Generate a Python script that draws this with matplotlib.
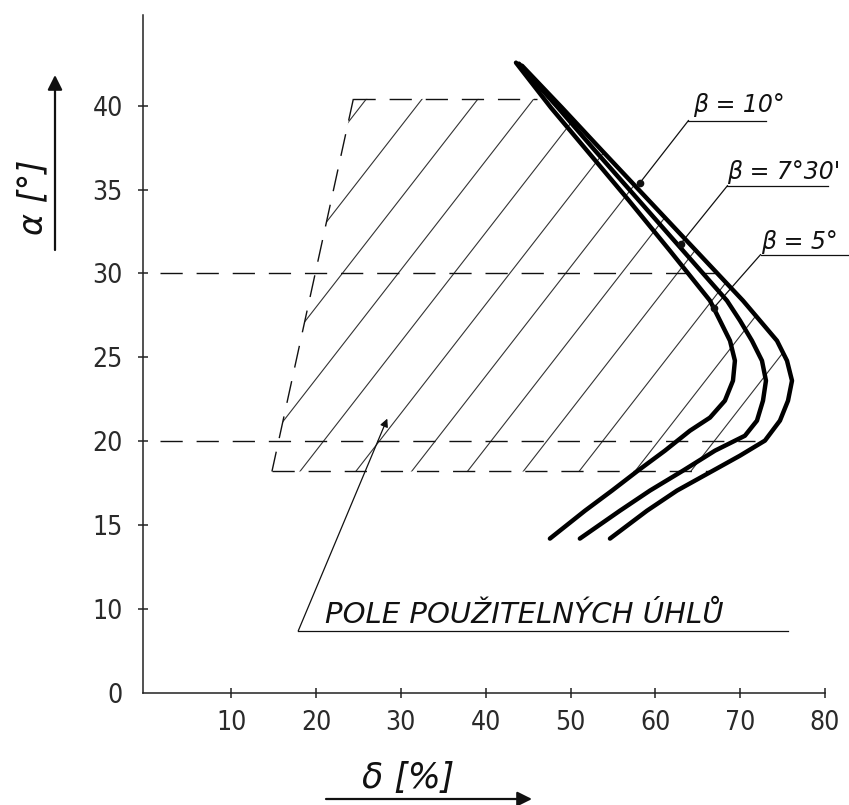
import matplotlib
matplotlib.use("Agg")
import matplotlib.pyplot as plt
from matplotlib.patches import Polygon
import numpy as np

# delta [%] / alpha [deg], from top end to bottom end
beta10_delta = [43.57, 47.69, 51.94, 56.89, 61.71, 66.44, 67.62, 68.80, 69.38, 69.15,
                68.20, 66.44, 64.08, 61.13, 57.95, 54.89, 51.70, 47.57]
beta10_alpha = [42.56, 39.88, 37.32, 34.34, 31.36, 28.38, 27.19, 25.99, 24.80, 23.61,
                22.42, 21.41, 20.63, 19.44, 18.25, 17.06, 15.86, 14.20]

beta730_delta = [43.92, 48.52, 52.89, 58.08, 63.26, 68.44, 69.98, 71.39, 72.57, 73.04,
                 72.69, 71.98, 70.56, 67.03, 63.26, 59.36, 55.82, 51.10]
beta730_alpha = [42.50, 39.88, 37.32, 34.34, 31.36, 28.38, 27.19, 25.99, 24.80, 23.61,
                 22.42, 21.23, 20.33, 19.44, 18.25, 17.06, 15.86, 14.20]

beta5_delta = [44.28, 48.99, 53.71, 59.25, 64.79, 70.33, 72.33, 74.34, 75.52, 76.11,
               75.64, 74.69, 72.92, 69.97, 66.80, 62.55, 59.01, 54.65]
beta5_alpha = [42.38, 39.88, 37.32, 34.34, 31.36, 28.38, 27.19, 25.99, 24.80, 23.61,
               22.42, 21.23, 20.04, 19.14, 18.25, 17.06, 15.86, 14.20]

# field of usable angles (left edge, top and bottom levels)
field_left_delta = [24.4, 14.8]
field_left_alpha = [40.4, 18.2]
field_top_end = 46.0
field_bottom_end = 66.5

# dashed guide levels
guide_alpha = [30, 20]
guide_end = [67.0, 71.8]

x_ticks = [10, 20, 30, 40, 50, 60, 70, 80]
y_ticks = [0, 10, 15, 20, 25, 30, 35, 40]

INK = "#111111"


def _fwd(a):
    a = np.asarray(a, dtype=float)
    return np.where(a < 10, 5 + 0.5 * a, a)


def _inv(v):
    v = np.asarray(v, dtype=float)
    return np.where(v < 10, (v - 5) * 2, v)


def main() -> None:
    fig = plt.figure(figsize=(8.49, 8.05), dpi=100)
    ax = fig.add_axes([143 / 849, 112 / 805, 682 / 849, 678 / 805])
    ax.set_yscale("function", functions=(_fwd, _inv))
    ax.set_xlim(-0.4, 80)
    ax.set_ylim(0, 45.4)

    for s in ["top", "right"]:
        ax.spines[s].set_visible(False)
    for s in ["left", "bottom"]:
        ax.spines[s].set_linewidth(1.1)
        ax.spines[s].set_color("#222222")

    ax.set_xticks(x_ticks)
    ax.set_yticks(y_ticks)
    ax.tick_params(direction="inout", length=7, width=1.1, color="#222222",
                   labelsize=19, labelcolor="#2a2a2a")
    ax.tick_params(axis="y", pad=11)
    ax.tick_params(axis="x", pad=9)
    ax.yaxis.get_major_ticks()[0].tick1line.set_visible(False)
    for lbl in ax.get_xticklabels() + ax.get_yticklabels():
        lbl.set_fontstretch("condensed")

    dash = (0, (16, 10))

    # hatched field, clipped to the region bounded by the beta = 5 deg curve
    top_a, bot_a = field_left_alpha
    top_x = np.interp(top_a, beta5_alpha[::-1], beta5_delta[::-1])
    bot_x = np.interp(bot_a, beta5_alpha[::-1], beta5_delta[::-1])
    inner = [(d, a) for d, a in zip(beta5_delta, beta5_alpha) if bot_a < a < top_a]
    verts = [(field_left_delta[0], top_a), (top_x, top_a)] + inner + \
            [(bot_x, bot_a), (field_left_delta[1], bot_a)]
    clip = Polygon(verts, closed=True, transform=ax.transData, fill=False, lw=0)
    slope = 0.65
    for c in np.arange(18.1 - 6.58 * 6, 80, 6.58):
        aa = np.array([bot_a - 1, top_a + 1])
        ln, = ax.plot(c + (aa - bot_a) / slope, aa, color="#333333", lw=0.8)
        ln.set_clip_path(clip)

    # field outline
    ax.plot(field_left_delta, field_left_alpha, color=INK, lw=1.0, ls=dash)
    ax.plot([field_left_delta[0], field_top_end], [top_a, top_a], color=INK, lw=1.0, ls=dash)
    ax.plot([field_left_delta[1], field_bottom_end], [bot_a, bot_a], color=INK, lw=1.0, ls=dash)
    for lev, end in zip(guide_alpha, guide_end):
        ax.plot([1.6, end], [lev, lev], color=INK, lw=1.0, ls=dash)

    # beta curves
    for xs, ys in [(beta10_delta, beta10_alpha), (beta730_delta, beta730_alpha),
                   (beta5_delta, beta5_alpha)]:
        ax.plot(xs, ys, color="black", lw=3.2, solid_capstyle="round",
                solid_joinstyle="round", zorder=5)

    # beta labels with leaders
    labels = [
        ("β = 10°", 64.4, 39.6, (63.9, 39.11), (73.0, 39.11), (58.2, 35.41)),
        ("β = 7°30'", 68.5, 35.6, (68.5, 35.23), (80.3, 35.23), (63.0, 31.78)),
        ("β = 5°", 72.4, 31.45, (72.4, 31.12), (83.5, 31.12), (66.9, 27.96)),
    ]
    for txt, tx, ty, u0, u1, dot in labels:
        ax.text(tx, ty, txt, fontsize=17, style="italic", color=INK, ha="left",
                va="baseline", clip_on=False)
        ax.plot([u0[0], u1[0]], [u0[1], u1[1]], color=INK, lw=0.9, clip_on=False)
        ax.plot([dot[0], u0[0]], [dot[1], u0[1]], color=INK, lw=0.9, clip_on=False)
        ax.plot(dot[0], dot[1], "o", color=INK, ms=4.5, zorder=6)

    # field annotation
    ax.plot([17.9, 75.6], [7.4, 7.4], color=INK, lw=0.9)
    ax.annotate("", xy=(28.4, 21.35), xytext=(17.9, 7.4),
                arrowprops=dict(arrowstyle="-|>", color=INK, lw=0.9,
                                mutation_scale=12, shrinkA=0, shrinkB=0))
    ax.text(21.1, 8.3, "POLE POUŽITELNÝCH ÚHLŮ", fontsize=21, style="italic",
            color=INK, ha="left", va="baseline")

    # axis titles with arrows
    fig.text(33 / 849, 1 - 197 / 805, "α [°]", rotation=90, fontsize=24,
             style="italic", color=INK, ha="center", va="center")
    fig.add_artist(plt.Annotation("", xy=(55 / 849, 1 - 75 / 805), xytext=(55 / 849, 1 - 250 / 805),
                                  xycoords="figure fraction", textcoords="figure fraction",
                                  arrowprops=dict(arrowstyle="-|>", color=INK, lw=1.6,
                                                  mutation_scale=22, shrinkA=0, shrinkB=0)))
    fig.text(408 / 849, 1 - 778 / 805, "δ [%]", fontsize=25, style="italic",
             color=INK, ha="center", va="center")
    fig.add_artist(plt.Annotation("", xy=(532 / 849, 1 - 799 / 805), xytext=(326 / 849, 1 - 799 / 805),
                                  xycoords="figure fraction", textcoords="figure fraction",
                                  arrowprops=dict(arrowstyle="-|>", color=INK, lw=1.6,
                                                  mutation_scale=22, shrinkA=0, shrinkB=0)))

    fig.savefig("out.png", dpi=100, facecolor="white")
    plt.close(fig)


if __name__ == "__main__":
    main()
